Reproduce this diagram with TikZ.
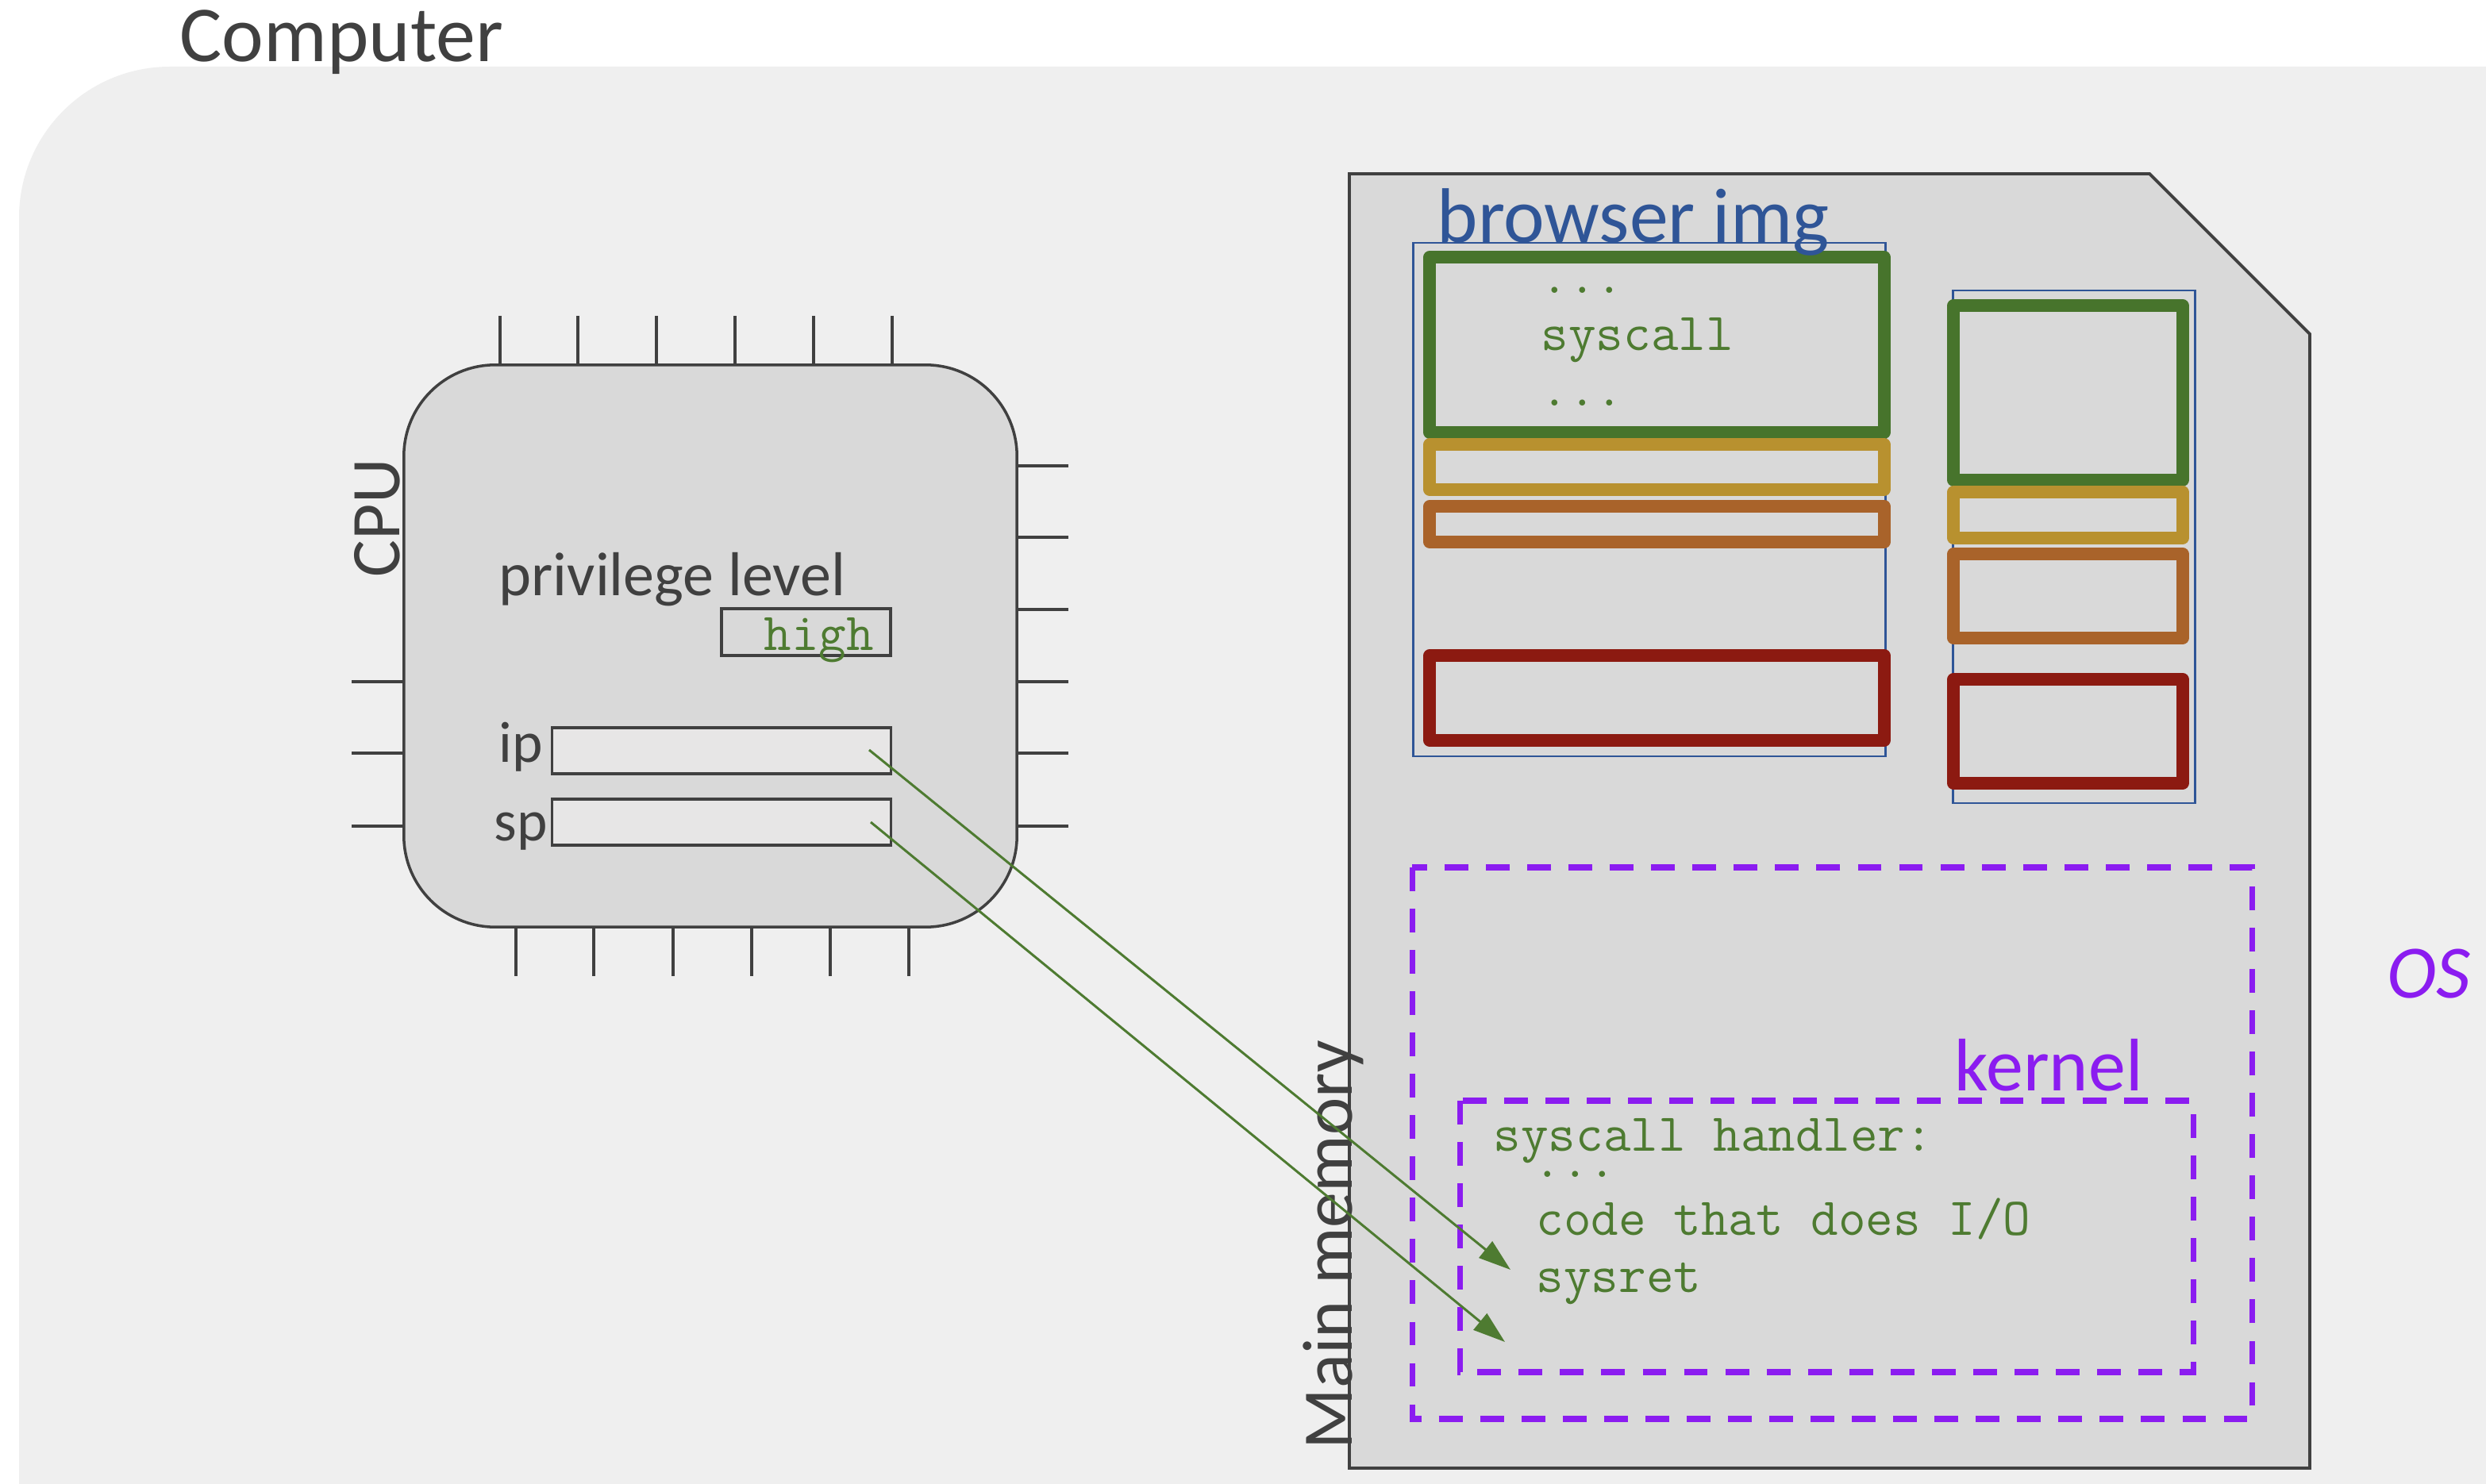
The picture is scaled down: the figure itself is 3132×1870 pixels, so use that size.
\documentclass[tikz,border=0pt]{standalone}
\usepackage{fontspec}
\setmainfont{Carlito}
\usetikzlibrary{arrows.meta}
\definecolor{bg}{HTML}{EFEFEF}
\definecolor{boxgray}{HTML}{D9D9D9}
\definecolor{regfill}{HTML}{E7E6E6}
\definecolor{dk}{HTML}{404040}
\definecolor{codegreen}{HTML}{4E7B31}
\definecolor{segreen}{HTML}{47742C}
\definecolor{segold}{HTML}{B8912F}
\definecolor{seorange}{HTML}{A9632A}
\definecolor{sered}{HTML}{8C1A11}
\definecolor{imgblue}{HTML}{2F5597}
\definecolor{ospurple}{HTML}{8B1CF0}
\begin{document}
\begin{tikzpicture}[x=0.01cm,y=-0.01cm,
  txt/.style={inner sep=0pt,anchor=base west,text=dk},
  code/.style={inner sep=0pt,anchor=base west,text=codegreen,font=\ttfamily\fontsize{19.1pt}{20pt}\selectfont},
  pin/.style={draw=dk,line width=0.9pt},
  reg/.style={draw=dk,line width=0.9pt,fill=regfill,inner sep=0pt,minimum width=4.26cm,minimum height=0.58cm},
  seg/.style={line width=4.3pt,line join=round},
  img/.style={draw=imgblue,line width=0.85pt},
  osbox/.style={draw=ospurple,line width=2pt,dash pattern=on 8.5pt off 6.3pt},
  ptr/.style={draw=codegreen,line width=0.85pt,-{Triangle[length=11.5pt,width=7.5pt]}}
]
\useasboundingbox (0,0) rectangle (3132,1870);
\fill[white] (0,0) rectangle (3132,1870);
\begin{scope}
  \clip (0,0) rectangle (3132,1870);
  \fill[bg,rounded corners=1.9cm] (24,84) rectangle (3500,2300);
\end{scope}
\node[txt,font=\fontsize{28.4pt}{30pt}\selectfont] (computer) at (226,78) {Computer};

% CPU pins
\foreach \x in {630,728,827,926,1025,1124} \draw[pin] (\x,398) -- (\x,462);
\foreach \x in {650,748,848,947,1046,1145} \draw[pin] (\x,1166) -- (\x,1230);
\foreach \y in {587,677,768,859,949,1041} \draw[pin] (1278,\y) -- (1346,\y);
\foreach \y in {859,949,1041} \draw[pin] (443,\y) -- (510,\y);
% CPU
\node[draw=dk,line width=1pt,fill=boxgray,rounded corners=1.15cm,minimum width=7.72cm,minimum height=7.08cm,inner sep=0pt] (cpu) at (895,814) {};
\node[txt,rotate=90,font=\fontsize{25pt}{27pt}\selectfont] (cpulabel) at (503,728) {CPU};
\node[txt,font=\fontsize{22.2pt}{24pt}\selectfont] (privlabel) at (628,751) {privilege level};
\node[draw=dk,line width=0.9pt,fill=boxgray,inner sep=0pt,minimum width=2.13cm,minimum height=0.59cm] (priv) at (1015.5,796.5) {};
\node[code] (high) at (962,819) {high};
\node[reg] (ipreg) at (909,946) {};
\node[reg] (spreg) at (909,1036) {};
\node[txt,font=\fontsize{20.8pt}{22pt}\selectfont] (iplabel) at (628,960) {ip};
\node[txt,font=\fontsize{20.8pt}{22pt}\selectfont] (splabel) at (622,1059) {sp};

% Main memory
\draw[dk,line width=1.1pt,fill=boxgray] (1700,219) -- (2708,219) -- (2910,421) -- (2910,1850) -- (1700,1850) -- cycle;
\node[txt,rotate=90,font=\fontsize{25.5pt}{27pt}\selectfont] (memlabel) at (1703,1827) {Main memory};

% browser image 1
\draw[img] (1780,306) rectangle (2375,953);
\draw[seg,segreen] (1801,324) rectangle (2374,545);
\draw[seg,segold] (1801,560) rectangle (2374,617);
\draw[seg,seorange] (1801,638) rectangle (2374,683);
\draw[seg,sered] (1801,826) rectangle (2374,933);
\node[txt,text=imgblue,font=\fontsize{27.8pt}{29pt}\selectfont] (browser) at (1810,306) {browser img};
\node[code] (d1) at (1941,370) {...};
\node[code] (sc) at (1941,442) {syscall};
\node[code] (d2) at (1941,512) {...};

% browser image 2
\draw[img] (2460,366) rectangle (2765,1012);
\draw[seg,segreen] (2461,385) rectangle (2750,605);
\draw[seg,segold] (2461,620) rectangle (2750,678);
\draw[seg,seorange] (2461,698) rectangle (2750,804);
\draw[seg,sered] (2461,856) rectangle (2750,987);

% OS and kernel
\draw[osbox] (1779,1093) rectangle (2837,1788);
\draw[osbox] (1839,1387) rectangle (2763,1729);
\node[txt,text=ospurple,font=\fontsize{26.7pt}{28pt}\selectfont] (kernel) at (2462,1374) {kernel};
\node[txt,text=ospurple,font=\itshape\fontsize{27pt}{29pt}\selectfont] (os) at (3007,1257) {OS};
\node[code] (h1) at (1881,1450) {syscall handler:};
\node[code] (h2) at (1932,1483) {...};
\node[code] (h3) at (1935,1556) {code that does I/O};
\node[code] (h4) at (1935,1628) {sysret};

% pointers
\coordinate (ipsrc) at (1095,945);
\coordinate (ipdst) at (1903,1600);
\coordinate (spsrc) at (1097,1036);
\coordinate (spdst) at (1896,1691);
\draw[ptr] (ipsrc) -- (ipdst);
\draw[ptr] (spsrc) -- (spdst);
\end{tikzpicture}
\end{document}
